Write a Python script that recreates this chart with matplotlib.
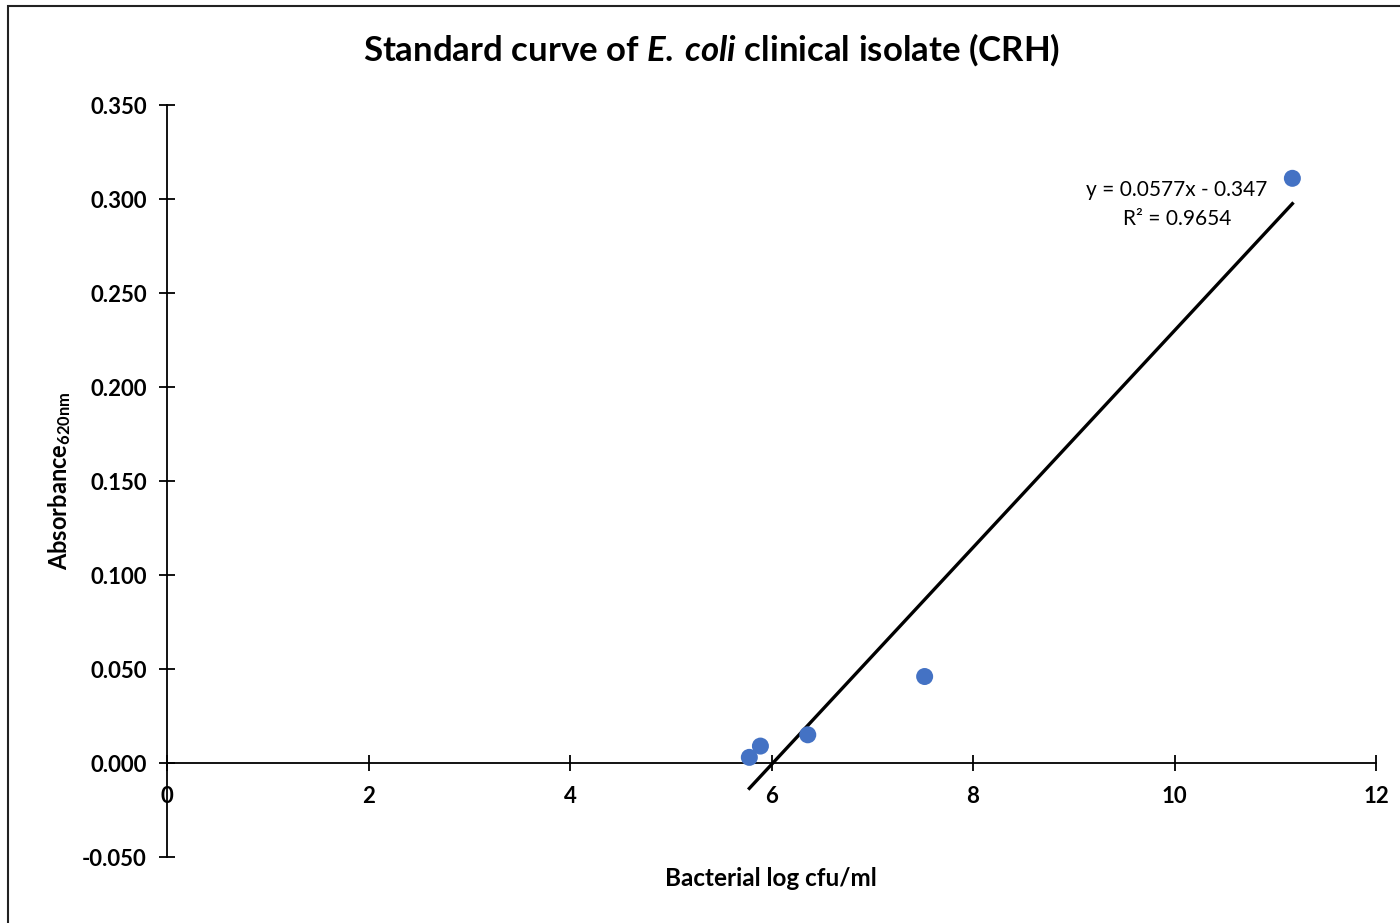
import matplotlib
matplotlib.use("Agg")
import matplotlib.pyplot as plt
from matplotlib.ticker import FormatStrFormatter
from matplotlib.patches import Rectangle
import numpy as np

# Data
log_cfu = [5.78, 5.89, 6.36, 7.52, 11.17]
absorbance = [0.003, 0.009, 0.015, 0.046, 0.311]
slope = 0.0577
intercept = -0.347
r_squared = 0.9654
x_ticks = [0, 2, 4, 6, 8, 10, 12]
y_ticks = [-0.05, 0.0, 0.05, 0.10, 0.15, 0.20, 0.25, 0.30, 0.35]

plt.rcParams['font.family'] = ['Lato', 'DejaVu Sans']
plt.rcParams['axes.unicode_minus'] = False
plt.rcParams['mathtext.fontset'] = 'custom'
plt.rcParams['mathtext.rm'] = 'Lato:bold'
plt.rcParams['mathtext.bf'] = 'Lato:bold'
plt.rcParams['mathtext.it'] = 'Lato:italic:bold'

fig = plt.figure(figsize=(14, 9.23), dpi=100)
W, H = 1400, 923
ax = fig.add_axes([167 / W, 1 - 857 / H, (1376 - 167) / W, (857 - 105) / H])

ax.scatter(log_cfu, absorbance, s=150, color='#4472C4', zorder=3, edgecolors='none')
xl = np.array([min(log_cfu), max(log_cfu)])
ax.plot(xl, slope * xl + intercept, color='black', lw=2.4, zorder=2)

ax.set_xlim(0, 12)
ax.set_ylim(-0.05, 0.35)
ax.set_xticks(x_ticks)
ax.set_yticks(y_ticks)
ax.yaxis.set_major_formatter(FormatStrFormatter('%.3f'))
ax.spines['top'].set_visible(False)
ax.spines['right'].set_visible(False)
ax.spines['bottom'].set_position(('data', 0))
ax.spines['left'].set_position(('data', 0))
for s in ['bottom', 'left']:
    ax.spines[s].set_linewidth(1.3)
ax.tick_params(direction='inout', length=11, width=1.3, labelsize=16)
ax.tick_params(axis='y', pad=9)
ax.tick_params(axis='x', pad=11)
for lab in ax.get_xticklabels() + ax.get_yticklabels():
    lab.set_fontweight('bold')

fig.text(771 / W, 1 - 879 / H, 'Bacterial log cfu/ml', ha='center', va='center',
         fontsize=17.5, fontweight='bold')
fig.text(60 / W, 1 - 481 / H, r'Absorbance$_{\mathrm{620nm}}$', ha='center', va='center',
         rotation=90, fontsize=17, fontweight='bold')
fig.text(712 / W, 1 - 50 / H, r'Standard curve of $E.\:coli$ clinical isolate (CRH)',
         ha='center', va='center', fontsize=25, fontweight='bold')

fig.text(1177 / W, 1 - 190 / H, f'y = {slope}x - {abs(intercept)}', ha='center', va='center',
         fontsize=15)
fig.text(1177 / W, 1 - 219 / H, f'R² = {r_squared}', ha='center', va='center', fontsize=15)

fig.patches.append(Rectangle((8 / W, -0.1), 1.2, 1 - 6 / H + 0.1, transform=fig.transFigure,
                             fill=False, edgecolor='#222222', lw=1.5))

fig.savefig('out.png', dpi=100)
